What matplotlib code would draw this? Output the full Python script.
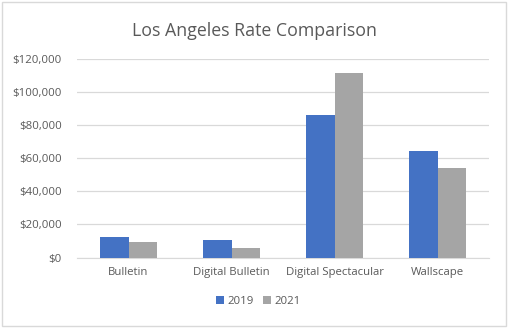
import matplotlib
matplotlib.use("Agg")
import matplotlib.pyplot as plt
import numpy as np
from matplotlib.patches import Rectangle
from matplotlib.ticker import FuncFormatter

categories = ["Bulletin", "Digital Bulletin", "Digital Spectacular", "Wallscape"]
years = ["2019", "2021"]
rates_2019 = [12300, 10500, 86200, 64600]
rates_2021 = [9300, 5700, 111400, 54000]

plt.rcParams["font.family"] = ["Open Sans", "DejaVu Sans"]
text_col = "#595959"

fig = plt.figure(figsize=(5.1, 3.29), dpi=100)
fig.patches.append(Rectangle((0.004, 0.008), 0.988, 0.985, transform=fig.transFigure,
                             fill=False, edgecolor="#d9d9d9", linewidth=1.0))
ax = fig.add_axes([0.151, 0.217, 0.808, 0.604])

x = np.arange(len(categories))
w = 0.277
ax.bar(x - w / 2, rates_2019, w, color="#4472C4", label=years[0], zorder=3)
ax.bar(x + w / 2, rates_2021, w, color="#A5A5A5", label=years[1], zorder=3)

ax.set_xlim(-0.5, len(categories) - 0.5)
ax.set_ylim(0, 120000)
ax.set_yticks(np.arange(0, 120001, 20000))
ax.yaxis.set_major_formatter(FuncFormatter(lambda v, _: f"${v:,.0f}"))
ax.set_xticks(x)
ax.set_xticklabels(categories)
ax.grid(axis="y", color="#d9d9d9", linewidth=0.9, zorder=0)
for s in ["top", "right", "left"]:
    ax.spines[s].set_visible(False)
ax.spines["bottom"].set_color("#d9d9d9")
ax.tick_params(length=0, colors=text_col, labelsize=8.2)
ax.tick_params(axis="y", pad=11)
ax.tick_params(axis="x", pad=7)

fig.text(0.5, 0.905, "Los Angeles Rate Comparison", fontsize=12.8, color=text_col,
         ha="center", va="center")
ax.legend(loc="upper center", bbox_to_anchor=(0.44, -0.14), ncol=2, frameon=False,
          fontsize=8.2, labelcolor=text_col, handlelength=0.7, handleheight=0.7,
          handletextpad=0.3, columnspacing=0.8)

fig.savefig("out.png", dpi=100)
